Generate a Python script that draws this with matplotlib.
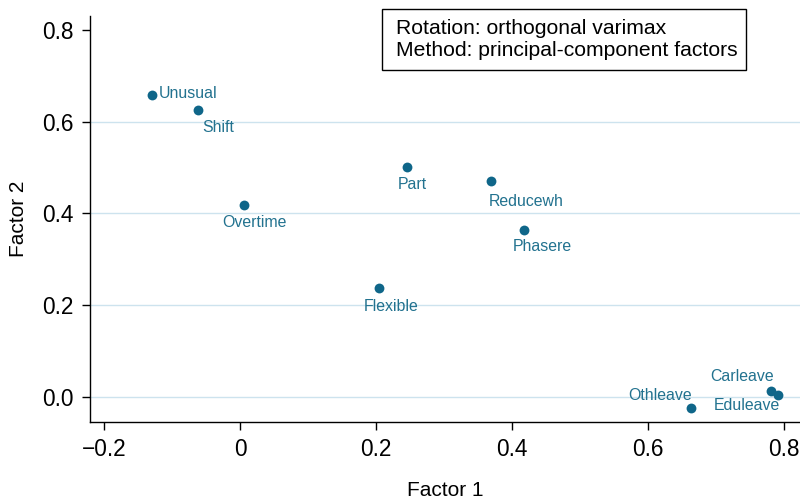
import numpy as np
import matplotlib
matplotlib.use("Agg")
import matplotlib.pyplot as plt
from matplotlib.patches import Rectangle

plt.rcParams['font.family'] = ['Liberation Sans', 'DejaVu Sans']

# loadings
variables = ['Unusual', 'Shift', 'Overtime', 'Part', 'Reducewh',
             'Phasere', 'Flexible', 'Othleave', 'Carleave', 'Eduleave']
factor1 = [-0.130, -0.062, 0.006, 0.245, 0.369, 0.417, 0.204, 0.663, 0.781, 0.791]
factor2 = [0.659, 0.626, 0.419, 0.502, 0.471, 0.364, 0.237, -0.025, 0.013, 0.004]

xticks = [-0.2, 0, 0.2, 0.4, 0.6, 0.8]
xticklabels = ['\u22120.2', '0', '0.2', '0.4', '0.6', '0.8']
yticks = [0.0, 0.2, 0.4, 0.6, 0.8]
yticklabels = ['0.0', '0.2', '0.4', '0.6', '0.8']
note_lines = ['Rotation: orthogonal varimax', 'Method: principal-component factors']

# label placement (offset in pixels from marker, alignment)
label_pos = {
    'Unusual':  (7, 1, 'left', 'center'),
    'Shift':    (20, -18, 'center', 'center'),
    'Overtime': (10, -18, 'center', 'center'),
    'Part':     (6, -18, 'center', 'center'),
    'Reducewh': (35, -21, 'center', 'center'),
    'Phasere':  (19, -17, 'center', 'center'),
    'Flexible': (12, -18, 'center', 'center'),
    'Othleave': (1, 13, 'right', 'center'),
    'Carleave': (3, 14, 'right', 'center'),
    'Eduleave': (2, -11, 'right', 'center'),
}

dot_col = '#0f6689'
lab_col = '#22728f'
grid_col = '#cde3ee'

fig = plt.figure(figsize=(8, 5), dpi=100)
ax = fig.add_axes([0.1125, 0.1566, 0.8875, 0.8114])

ax.scatter(factor1, factor2, s=50, color=dot_col, zorder=3, linewidths=0)
for name, x, y in zip(variables, factor1, factor2):
    dx, dy, ha, va = label_pos[name]
    ax.annotate(name, (x, y), xytext=(dx, dy), textcoords='offset pixels',
                ha=ha, va=va, fontsize=11.4, color=lab_col)

ax.set_xlim(-0.2206, 0.8235)
ax.set_ylim(-0.0546, 0.831)
ax.set_xticks(xticks)
ax.set_xticklabels(xticklabels)
ax.set_yticks(yticks)
ax.set_yticklabels(yticklabels)
for yv in yticks[:-1]:
    ax.axhline(yv, color=grid_col, lw=1.0, zorder=1)

ax.tick_params(labelsize=16.3, length=6, width=1.0, pad=6)
for s in ['top', 'right']:
    ax.spines[s].set_visible(False)
for s in ['left', 'bottom']:
    ax.spines[s].set_linewidth(1.0)

ax.set_xlabel('Factor 1', fontsize=15, labelpad=14)
ax.set_ylabel('Factor 2', fontsize=15, labelpad=10)

# note box (figure pixels -> fractions)
fig.patches.append(Rectangle((382 / 800, 1 - 70 / 500), 364 / 800, 61 / 500,
                             transform=fig.transFigure, fc='white', ec='black',
                             lw=1.0, zorder=5))
for i, line in enumerate(note_lines):
    fig.text(396 / 800, 1 - (28 + 22 * i) / 500, line, fontsize=15.2,
             ha='left', va='center', zorder=6)

fig.savefig('out.png', dpi=100)
